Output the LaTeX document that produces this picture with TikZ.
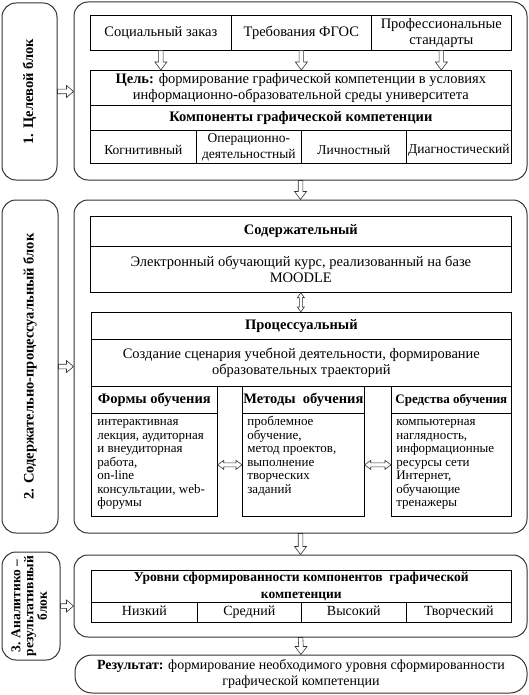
\documentclass[tikz,border=0pt]{standalone}
\usepackage{fontspec}
\setmainfont{Liberation Serif}
\usetikzlibrary{calc}

\tikzset{
  cell/.style={draw, line width=0.7pt, anchor=north west, inner sep=0pt, align=center},
  row/.style={cell, text height=10pt, text depth=3pt},
  body/.style={cell, font=\fontsize{13}{13.5}\selectfont, inner xsep=5pt, inner ysep=3pt},
  blk/.style={draw=black!80, line width=1pt, rounded corners=14pt, inner sep=0pt, align=center},
  arr/.style={draw=black!80, fill=white, line width=0.6pt},
  % hollow block arrows: shaft half width, head half width, head length
  dflow/.style n args={3}{arr, to path={
      ($(\tikztostart)+(-#1,0)$) -- ($(\tikztotarget)+(-#1,-#3)$) -- ($(\tikztotarget)+(-#2,-#3)$) -- (\tikztotarget)
      -- ($(\tikztotarget)+(#2,-#3)$) -- ($(\tikztotarget)+(#1,-#3)$) -- ($(\tikztostart)+(#1,0)$) -- cycle}},
  rflow/.style n args={3}{arr, to path={
      ($(\tikztostart)+(0,-#1)$) -- ($(\tikztotarget)+(-#3,-#1)$) -- ($(\tikztotarget)+(-#3,-#2)$) -- (\tikztotarget)
      -- ($(\tikztotarget)+(-#3,#2)$) -- ($(\tikztotarget)+(-#3,#1)$) -- ($(\tikztostart)+(0,#1)$) -- cycle}},
  dflows/.style n args={3}{arr, to path={
      (\tikztostart) -- ($(\tikztostart)+(-#2,#3)$) -- ($(\tikztostart)+(-#1,#3)$) -- ($(\tikztotarget)+(-#1,-#3)$)
      -- ($(\tikztotarget)+(-#2,-#3)$) -- (\tikztotarget) -- ($(\tikztotarget)+(#2,-#3)$) -- ($(\tikztotarget)+(#1,-#3)$)
      -- ($(\tikztostart)+(#1,#3)$) -- ($(\tikztostart)+(#2,#3)$) -- cycle}},
  rflows/.style n args={3}{arr, to path={
      (\tikztostart) -- ($(\tikztostart)+(#3,-#2)$) -- ($(\tikztostart)+(#3,-#1)$) -- ($(\tikztotarget)+(-#3,-#1)$)
      -- ($(\tikztotarget)+(-#3,-#2)$) -- (\tikztotarget) -- ($(\tikztotarget)+(-#3,#2)$) -- ($(\tikztotarget)+(-#3,#1)$)
      -- ($(\tikztostart)+(#3,#1)$) -- ($(\tikztostart)+(#3,#2)$) -- cycle}},
  flow/.style={dflow={2.3}{6}{8}},
  side/.style={rflow={2.3}{6}{7}},
}

\begin{document}
\begin{tikzpicture}[x=1pt, y=-1pt, font=\fontsize{14.5}{16.5}\selectfont]
  \useasboundingbox (0,0) rectangle (529,695);

  % 1. target block
  \node[blk, minimum width=55pt, minimum height=177pt] (lab1) at (29.5,91.5) {\rotatebox{90}{\textbf{1. Целевой блок}}};
  \node[blk, minimum width=453pt, minimum height=178pt] (out1) at (300.5,91) {};
  \node[cell, minimum width=141pt, minimum height=35pt] (zakaz) at (90,15) {Социальный заказ};
  \node[cell, minimum width=140pt, minimum height=35pt] (fgos) at (231,15) {Требования ФГОС};
  \node[cell, minimum width=140pt, minimum height=35pt] (prof) at (371,15) {Профессиональные\\стандарты};
  \node[cell, minimum width=421pt, minimum height=35pt] (goal) at (90,70)
    {\textbf{Цель:} формирование графической компетенции в условиях\\информационно-образовательной среды университета};
  \node[cell, minimum width=421pt, minimum height=25pt] (compH) at (90,105) {\textbf{Компоненты графической компетенции}};
  \foreach \n/\x/\w/\t in {cog/90/106/\mbox{}\\Когнитивный, oper/196/105/Операционно-\\деятельностный,
      pers/301/105/\mbox{}\\Личностный, diag/406/105/\mbox{}\\Диагностический}
    \node[cell, font=\fontsize{13.5}{16}\selectfont, minimum width=\w pt, minimum height=33pt] (\n) at (\x,130) {\t};
  \foreach \c in {zakaz, fgos, prof}
    \draw[flow] (\c.south) to (\c.south |- goal.north);
  \draw[side] (lab1.east) to (lab1.east -| out1.west);

  % 2. content and process block
  \node[blk, minimum width=56pt, minimum height=333pt] (lab2) at (30,366.5) {\rotatebox{90}{\textbf{2. Содержательно-процессуальный блок}}};
  \node[blk, minimum width=453pt, minimum height=333pt] (out2) at (300.5,366.5) {};
  \node[cell, minimum width=421pt, minimum height=30pt] (soderH) at (90,216) {\textbf{Содержательный}};
  \node[cell, minimum width=421pt, minimum height=46pt] (soderT) at (90,246) {Электронный обучающий курс, реализованный на базе\\MOODLE};
  \node[cell, minimum width=420pt, minimum height=27pt] (procH) at (91,312) {\textbf{Процессуальный}};
  \node[cell, minimum width=420pt, minimum height=47pt] (procT) at (91,339) {Создание сценария учебной деятельности, формирование\\образовательных траекторий};
  \node[row, minimum width=126pt, minimum height=27pt] (formyH) at (91,386) {\textbf{Формы обучения}};
  \node[row, minimum width=122pt, minimum height=27pt] (metodyH) at (242,386) {\textbf{Методы\ \ обучения}};
  \node[row, font=\fontsize{13}{15}\selectfont, minimum width=120pt, minimum height=27pt] (sredH) at (391,386) {\textbf{Средства обучения}};
  \node[body, inner xsep=6pt] (formyB) at (91,413) {\parbox[t][97pt][t]{114pt}{\raggedright\strut интерактивная\\лекция, аудиторная\\и внеудиторная\\работа,\\on-line\\консультации, web-\\форумы}};
  \node[body] (metodyB) at (242,413) {\parbox[t][97pt][t]{112pt}{\raggedright\strut проблемное\\обучение,\\метод проектов,\\выполнение\\творческих\\заданий}};
  \node[body] (sredB) at (391,413) {\parbox[t][97pt][t]{110pt}{\raggedright\strut компьютерная\\наглядность,\\информационные\\ресурсы сети\\Интернет,\\обучающие\\тренажеры}};
  \draw[dflows={1.5}{3.5}{5}] (soderT.south) to (soderT.south |- procH.north);
  \draw[rflows={2}{4.5}{6}] (formyB.east) to (metodyB.west);
  \draw[rflows={2}{4.5}{6}] (metodyB.east) to (sredB.west);
  \draw[side] (lab2.east) to (lab2.east -| out2.west);
  \draw[flow] (out1.south) to (out2.north);

  % 3. analytic and result block
  \node[blk, minimum width=58pt, minimum height=108pt] (lab3) at (31,606)
    {\rotatebox{90}{\fontsize{13.5}{12.5}\selectfont\bfseries\begin{tabular}{@{}c@{}}3. Аналитико –\\результативный\\блок\end{tabular}}};
  \node[blk, minimum width=453pt, minimum height=82pt] (out3) at (300.5,596) {};
  \node[cell, font=\fontsize{13.5}{16.5}\selectfont\bfseries, minimum width=420pt, minimum height=32pt] (levH) at (91,570)
    {Уровни сформированности компонентов\ \ графической\\компетенции};
  \foreach \n/\x/\w/\t in {low/91/106/Низкий, mid/197/104/Средний, high/301/105/Высокий, creat/406/105/Творческий}
    \node[row, font=\fontsize{14}{16}\selectfont, minimum width=\w pt, minimum height=20pt] (\n) at (\x,602) {\t};
  \draw[side] (lab3.east) to (lab3.east -| out3.west);
  \draw[flow] (out2.south) to (out3.north);

  \node[blk, rounded corners=17pt, font=\fontsize{14}{16}\selectfont, minimum width=452pt, minimum height=38pt] (result) at (301,674)
    {\textbf{Результат:} формирование необходимого уровня сформированности\\графической компетенции};
  \draw[flow] (out3.south) to (result.north);
\end{tikzpicture}
\end{document}
